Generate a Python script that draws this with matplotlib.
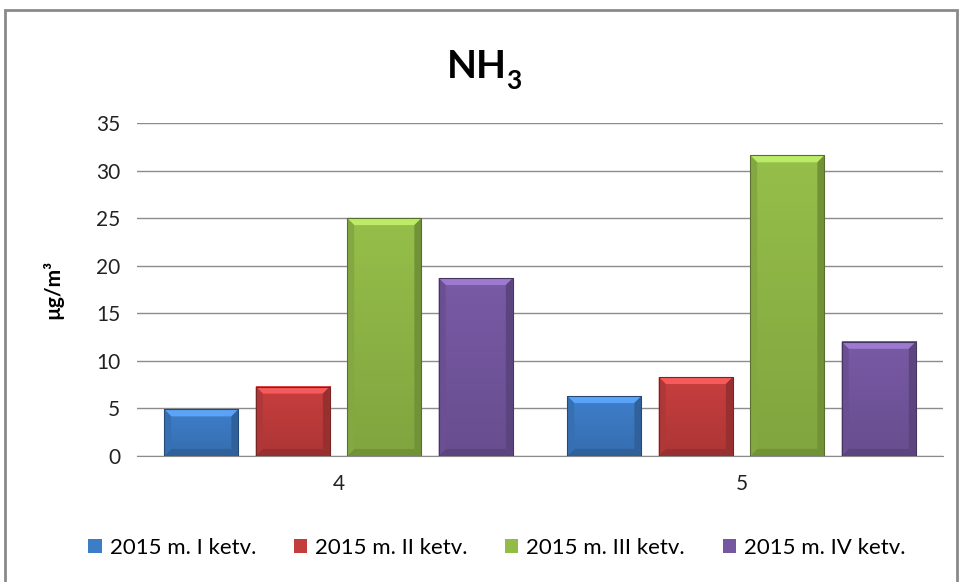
import numpy as np
import matplotlib.pyplot as plt
from matplotlib.patches import Rectangle, Polygon
from matplotlib.colors import to_rgb

categories = ['4', '5']
series = ['2015 m. I ketv.', '2015 m. II ketv.', '2015 m. III ketv.', '2015 m. IV ketv.']
q1 = [4.9, 6.3]
q2 = [7.3, 8.3]
q3 = [25.0, 31.6]
q4 = [18.7, 12.0]
colors = ['#3d7cc6', '#c43d3d', '#92bb48', '#7658a2']

plt.rcParams['font.family'] = ['Lato', 'DejaVu Sans']

fig = plt.figure(figsize=(9.61, 5.82), dpi=100)
ax = fig.add_axes([0.1426, 0.2165, 0.8387, 0.5722])

# bevel size in data units (about 7 px)
bx = 7 / 403.0
by = 7 / 9.51

def bevel(ax, x0, w, h, col):
    c = np.array(to_rgb(col))
    light = tuple(np.clip(c * 1.15 + 0.08, 0, 1))
    dark = tuple(c * 0.78)
    side = tuple(c * 0.9)
    # vertical gradient on the face
    t = np.linspace(0, 1, 64)[:, None]
    img = np.clip(c[None, :] * (0.88 + 0.14 * t), 0, 1)
    ax.imshow(img[:, None, :], extent=[x0, x0 + w, 0, h], aspect='auto',
              origin='lower', zorder=3)
    d = min(by, h / 2)
    ax.add_patch(Polygon([(x0, h), (x0 + w, h), (x0 + w - bx, h - d), (x0 + bx, h - d)],
                         fc=light, ec='none', zorder=4))
    ax.add_patch(Polygon([(x0, 0), (x0 + w, 0), (x0 + w - bx, d), (x0 + bx, d)],
                         fc=dark, ec='none', zorder=4))
    ax.add_patch(Polygon([(x0, 0), (x0 + bx, d), (x0 + bx, h - d), (x0, h)],
                         fc=side, ec='none', zorder=4))
    ax.add_patch(Polygon([(x0 + w, 0), (x0 + w - bx, d), (x0 + w - bx, h - d), (x0 + w, h)],
                         fc=dark, ec='none', zorder=4))
    ax.add_patch(Rectangle((x0, 0), w, h, fill=False, ec=tuple(c * 0.6), lw=0.8, zorder=5))

width = 0.184
step = 0.227
x = np.arange(len(categories))
for i, (vals, col, lab) in enumerate(zip([q1, q2, q3, q4], colors, series)):
    pos = x + (i - 1.5) * step
    bars = ax.bar(pos, vals, width, color=col, label=lab, zorder=2)
    for b, v in zip(bars, vals):
        bevel(ax, b.get_x(), b.get_width(), v, col)

ax.set_xlim(-0.5, 1.5)
ax.set_ylim(0, 35)
ax.set_yticks(range(0, 36, 5))
ax.set_xticks(x)
ax.set_xticklabels(categories)
ax.yaxis.grid(True, color='#8c8c8c', lw=1)
ax.set_axisbelow(True)
for s in ['top', 'right', 'left']:
    ax.spines[s].set_visible(False)
ax.spines['bottom'].set_color('#8c8c8c')
ax.tick_params(length=0, labelsize=15, colors='#222222')
ax.tick_params(axis='y', pad=12)
ax.tick_params(axis='x', pad=13)
ax.set_ylabel('µg/m³', fontsize=15, fontweight='bold', labelpad=24)

fig.text(0.527, 0.885, 'NH', ha='right', va='center', fontsize=28, fontweight='bold')
fig.text(0.527, 0.861, '3', ha='left', va='center', fontsize=19, fontweight='bold')

ax.legend(loc='center', bbox_to_anchor=(0.517, 0.058), bbox_transform=fig.transFigure,
          ncol=4, frameon=False, fontsize=16, handlelength=0.6, handleheight=0.6,
          handletextpad=0.35, columnspacing=1.7)

fig.patches.append(Rectangle((5 / 961, -0.02), 952 / 961, 1 - 10 / 582 + 0.02,
                             transform=fig.transFigure, fill=False, ec='#8a8a8a', lw=2))

fig.savefig('out.png', dpi=100)
